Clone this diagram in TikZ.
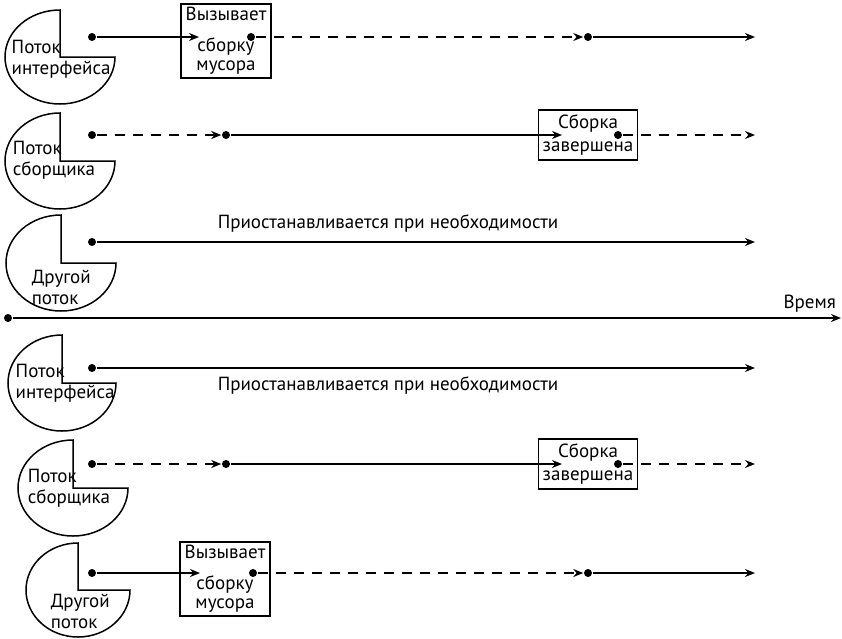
\documentclass[tikz,border=0pt]{standalone}
\usepackage{fontspec}
\setmainfont{PT Sans}
\usetikzlibrary{arrows.meta}

\begin{document}
\begin{tikzpicture}[x=1pt,y=-1pt,line width=1.5pt,
  every node/.style={font=\fontsize{19}{21}\selectfont},
  dot/.style={circle,fill,inner sep=0pt,minimum size=8pt},
  thread/.style={line width=1.5pt},
  label/.style={anchor=west,inner sep=0pt,align=left},
  gcbox/.style={draw,line width=1.8pt,inner sep=1pt,align=center},
  run/.style={-{Stealth[length=10pt,width=8pt]}},
  wait/.style={run,dash pattern=on 10pt off 8pt}]
  \useasboundingbox (0,0) rectangle (842,638);
  % first scenario: the interface thread starts the collection
  \draw[thread] (60,57) -- (60,10) arc[start angle=270,end angle=0,x radius=55,y radius=47] -- cycle;
  \node[label] (ui1) at (11,59) {Поток\\интерфейса};
  \draw[thread] (60,161) -- (60,113) arc[start angle=270,end angle=0,x radius=55,y radius=48] -- cycle;
  \node[label] (gc1) at (12,160) {Поток\\сборщика};
  \draw[thread] (61,263) -- (61,215) arc[start angle=270,end angle=0,x radius=55,y radius=48] -- cycle;
  \node[label] (other1) at (31,287) {Другой\\поток};
  % row of the interface thread
  \node[gcbox,minimum width=90,minimum height=74] (call1) at (226,41) {Вызывает\\[10pt]сборку\\[-2pt]мусора};
  \node[dot] (a1) at (92,37) {};
  \coordinate (a2) at (199,37);
  \node[dot] (a3) at (251,37) {};
  \node[dot] (a4) at (588,37) {};
  \coordinate (a5) at (755,37);
  \draw[run] (a1) -- (a2);
  \draw[wait] (a3) -- (a4);
  \draw[run] (a4) -- (a5);
  % row of the collector thread
  \node[gcbox,minimum width=99,minimum height=50] (done1) at (588,135) {Сборка\\[2pt]завершена};
  \node[dot] (b1) at (92,135) {};
  \node[dot] (b2) at (226,135) {};
  \coordinate (b3) at (562,135);
  \node[dot] (b4) at (618,135) {};
  \coordinate (b5) at (755,135);
  \draw[wait] (b1) -- (b2);
  \draw[run] (b2) -- (b3);
  \draw[wait] (b4) -- (b5);
  % row of the other thread
  \node[dot] (c1) at (92,242) {};
  \coordinate (c2) at (755,242);
  \draw[run] (c1) -- (c2);
  \node (pause1) at (388,224) {Приостанавливается при необходимости};
  % time axis
  \node[dot] (t0) at (8,318) {};
  \coordinate (t1) at (841,318);
  \draw[run] (t0) -- (t1);
  \node[anchor=east] (time) at (840,304) {Время};
  % second scenario: another thread starts the collection
  \draw[thread] (62,383) -- (62,335) arc[start angle=270,end angle=0,x radius=54,y radius=48] -- cycle;
  \node[label] (ui2) at (15,383) {Поток\\интерфейса};
  \draw[thread] (73,488) -- (73,440) arc[start angle=270,end angle=0,x radius=55,y radius=48] -- cycle;
  \node[label] (gc2) at (27,488) {Поток\\сборщика};
  \draw[thread] (78,590) -- (78,543) arc[start angle=270,end angle=0,x radius=52,y radius=47] -- cycle;
  \node[label] (other2) at (50,611) {Другой\\поток};
  % row of the interface thread
  \node[dot] (d1) at (92,368) {};
  \coordinate (d2) at (755,368);
  \draw[run] (d1) -- (d2);
  \node (pause2) at (388,386) {Приостанавливается при необходимости};
  % row of the collector thread
  \node[gcbox,minimum width=99,minimum height=50] (done2) at (588,464) {Сборка\\[2pt]завершена};
  \node[dot] (e1) at (92,464) {};
  \node[dot] (e2) at (226,464) {};
  \coordinate (e3) at (562,464);
  \node[dot] (e4) at (618,464) {};
  \coordinate (e5) at (755,464);
  \draw[wait] (e1) -- (e2);
  \draw[run] (e2) -- (e3);
  \draw[wait] (e4) -- (e5);
  % row of the other thread
  \node[gcbox,minimum width=90,minimum height=74] (call2) at (225,579) {Вызывает\\[10pt]сборку\\[-2pt]мусора};
  \node[dot] (f1) at (92,573) {};
  \coordinate (f2) at (200,573);
  \node[dot] (f3) at (253,573) {};
  \node[dot] (f4) at (588,573) {};
  \coordinate (f5) at (755,573);
  \draw[run] (f1) -- (f2);
  \draw[wait] (f3) -- (f4);
  \draw[run] (f4) -- (f5);
\end{tikzpicture}
\end{document}
